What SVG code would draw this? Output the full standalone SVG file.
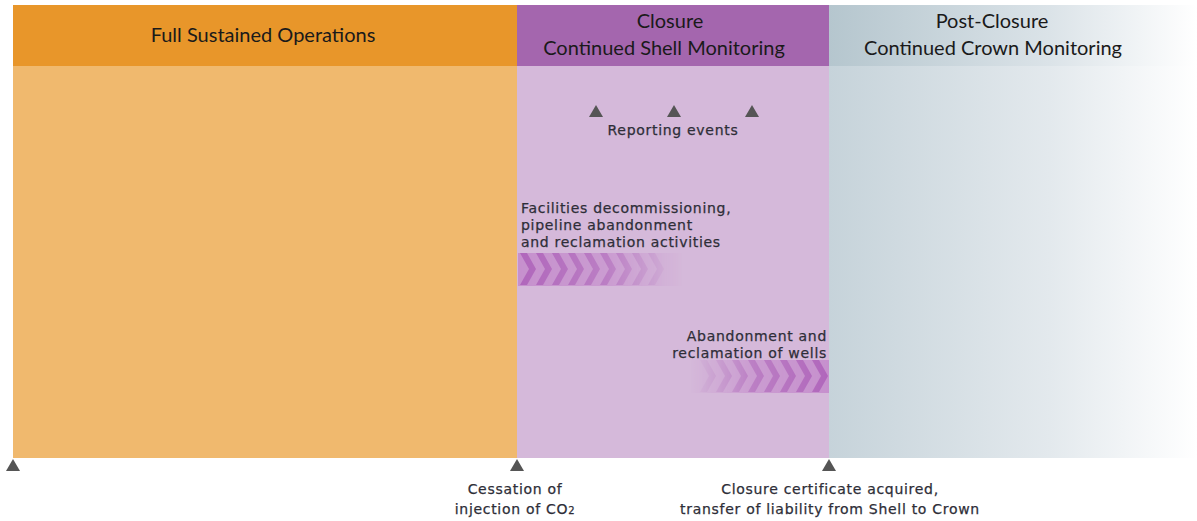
<svg xmlns="http://www.w3.org/2000/svg" width="1197" height="521" viewBox="0 0 1197 521">
  <style>
    .hdr { font-family: Lato, "Open Sans", "Liberation Sans", sans-serif; font-size: 20px; fill: #1a1a1a; text-anchor: middle; }
    .lbl { font-family: "DejaVu Sans", Verdana, sans-serif; font-size: 14px; letter-spacing: 0.7px; fill: #2e2e38; stroke: #2e2e38; stroke-width: 0.25px; }
    .mk { fill: #555; }
  </style>
  <defs>
    <linearGradient id="postHead" x1="0" y1="0" x2="1" y2="0">
      <stop offset="0" stop-color="#b5c6ce"/>
      <stop offset="0.6" stop-color="#dbe3e8"/>
      <stop offset="1" stop-color="#ffffff"/>
    </linearGradient>
    <linearGradient id="postBody" x1="0" y1="0" x2="1" y2="0">
      <stop offset="0" stop-color="#c6d3da"/>
      <stop offset="0.6" stop-color="#e3e9ed"/>
      <stop offset="1" stop-color="#ffffff"/>
    </linearGradient>
    <linearGradient id="fadeRight" x1="0" y1="0" x2="1" y2="0">
      <stop offset="0" stop-color="#fff" stop-opacity="1"/>
      <stop offset="0.55" stop-color="#fff" stop-opacity="0.7"/>
      <stop offset="1" stop-color="#fff" stop-opacity="0"/>
    </linearGradient>
    <linearGradient id="fadeLeft" x1="1" y1="0" x2="0" y2="0">
      <stop offset="0" stop-color="#fff" stop-opacity="1"/>
      <stop offset="0.55" stop-color="#fff" stop-opacity="0.7"/>
      <stop offset="1" stop-color="#fff" stop-opacity="0"/>
    </linearGradient>
    <mask id="mFacilities" maskUnits="userSpaceOnUse" x="518" y="253" width="165" height="33">
      <rect x="518" y="253" width="165" height="33" fill="url(#fadeRight)"/>
    </mask>
    <mask id="mWells" maskUnits="userSpaceOnUse" x="690" y="360" width="139" height="33">
      <rect x="690" y="360" width="139" height="33" fill="url(#fadeLeft)"/>
    </mask>
    <!-- one chevron of the progress band -->
    <path id="chev" d="M0,0 L7,0 L16,16 L7,32 L0,32 L9,16 Z"/>
    <path id="tri" d="M-7,12 L0,0 L7,12 Z"/>
  </defs>

  <!-- phase backgrounds -->
  <g id="phase-operations">
    <rect x="13" y="66" width="504" height="392" fill="#f0b96e"/>
    <rect x="13" y="5" width="504" height="61" fill="#e8962a"/>
    <text class="hdr" x="263" y="42">Full Sustained Operations</text>
  </g>
  <g id="phase-closure">
    <rect x="517" y="66" width="312" height="392" fill="#d5b9da"/>
    <rect x="517" y="5" width="312" height="61" fill="#a466ae"/>
    <text class="hdr" x="670" y="28">Closure</text>
    <text class="hdr" x="664" y="55">Continued Shell Monitoring</text>
  </g>
  <g id="phase-post-closure">
    <rect x="829" y="66" width="368" height="392" fill="url(#postBody)"/>
    <rect x="829" y="5" width="368" height="61" fill="url(#postHead)"/>
    <text class="hdr" x="992" y="28">Post-Closure</text>
    <text class="hdr" x="993" y="55">Continued Crown Monitoring</text>
  </g>

  <!-- reporting events -->
  <g id="reporting-events">
    <use href="#tri" class="mk" x="596" y="105"/>
    <use href="#tri" class="mk" x="674" y="105"/>
    <use href="#tri" class="mk" x="752" y="105"/>
    <text class="lbl" x="673" y="135" text-anchor="middle">Reporting events</text>
  </g>

  <!-- facilities decommissioning band -->
  <g id="facilities">
    <text class="lbl" x="521" y="213">Facilities decommissioning,</text>
    <text class="lbl" x="521" y="230">pipeline abandonment</text>
    <text class="lbl" x="521" y="247">and reclamation activities</text>
    <g mask="url(#mFacilities)">
      <rect x="518" y="253" width="165" height="33" fill="#c690cd"/>
      <g fill="#b066bb">
        <use href="#chev" x="520" y="253"/>
        <use href="#chev" x="536" y="253"/>
        <use href="#chev" x="552" y="253"/>
        <use href="#chev" x="568" y="253"/>
        <use href="#chev" x="584" y="253"/>
        <use href="#chev" x="600" y="253"/>
        <use href="#chev" x="616" y="253"/>
        <use href="#chev" x="632" y="253"/>
        <use href="#chev" x="648" y="253"/>
      </g>
    </g>
  </g>

  <!-- wells abandonment band -->
  <g id="wells">
    <text class="lbl" x="827" y="341" text-anchor="end">Abandonment and</text>
    <text class="lbl" x="827" y="358" text-anchor="end">reclamation of wells</text>
    <g mask="url(#mWells)">
      <rect x="690" y="360" width="139" height="33" fill="#c690cd"/>
      <g fill="#b066bb">
        <use href="#chev" x="700" y="360"/>
        <use href="#chev" x="716" y="360"/>
        <use href="#chev" x="732" y="360"/>
        <use href="#chev" x="748" y="360"/>
        <use href="#chev" x="764" y="360"/>
        <use href="#chev" x="780" y="360"/>
        <use href="#chev" x="796" y="360"/>
        <use href="#chev" x="812" y="360"/>
      </g>
    </g>
  </g>

  <!-- timeline milestones -->
  <g id="milestone-start">
    <use href="#tri" class="mk" x="13" y="459"/>
  </g>
  <g id="milestone-cessation">
    <use href="#tri" class="mk" x="517" y="459"/>
    <text class="lbl" x="515" y="494" text-anchor="middle">Cessation of</text>
    <text class="lbl" x="515" y="514" text-anchor="middle">injection of CO<tspan font-size="10">2</tspan></text>
  </g>
  <g id="milestone-certificate">
    <use href="#tri" class="mk" x="829" y="459"/>
    <text class="lbl" x="830" y="494" text-anchor="middle">Closure certificate acquired,</text>
    <text class="lbl" x="830" y="514" text-anchor="middle">transfer of liability from Shell to Crown</text>
  </g>
</svg>
